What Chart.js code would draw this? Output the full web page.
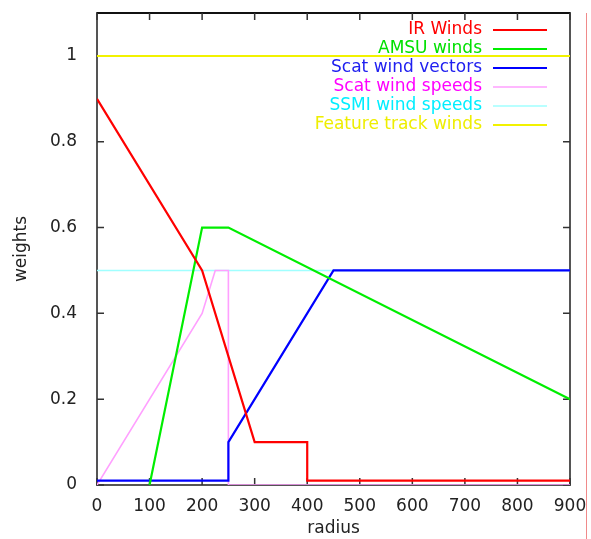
<!DOCTYPE html>
<html lang="en">
<head>
    <meta charset="UTF-8">
    <title>Observation weights by radius</title>
    <script src="https://cdn.jsdelivr.net/npm/chart.js"></script>
    <style>
        body {
            margin: 0;
            background: #ffffff;
        }
        .wrap {
            position: relative;
            width: 591px;
            height: 539px;
        }
        .edge {
            position: absolute;
            left: 586px;
            top: 13px;
            width: 1px;
            height: 526px;
            background: #f08a8a;
        }
    </style>
</head>
<body>
    <div class="wrap">
        <canvas id="weightChart"></canvas>
        <div class="edge"></div>
    </div>

    <script>
        // axis ticks
        const xTicks = [0, 100, 200, 300, 400, 500, 600, 700, 800, 900];
        const yTicks = [0, 0.2, 0.4, 0.6, 0.8, 1];

        // series (radius -> weight)
        const irX = [0, 200, 300, 400, 400, 900];
        const irY = [0.9, 0.5, 0.1, 0.1, 0.01, 0.01];
        const amsuX = [100, 200, 250, 900];
        const amsuY = [0, 0.6, 0.6, 0.2];
        const scatVecX = [0, 250, 250, 450, 900];
        const scatVecY = [0.01, 0.01, 0.1, 0.5, 0.5];
        const scatSpdX = [0, 200, 225, 250, 250, 900];
        const scatSpdY = [0, 0.4, 0.5, 0.5, 0, 0];
        const ssmiX = [0, 900];
        const ssmiY = [0.5, 0.5];
        const featX = [0, 900];
        const featY = [1, 1];

        const pts = (xs, ys) => xs.map((x, i) => ({ x: x, y: ys[i] }));

        // text colours for the legend (lines use the dataset colour)
        const legendText = ["#ff0000", "#00e000", "#2020f0", "#ff00ff", "#00eeff", "#eeee00"];

        const frameAndLegend = {
            id: "frameAndLegend",
            beforeDatasetsDraw(chart) {
                const ctx = chart.ctx;
                const a = chart.chartArea;
                const xs = chart.scales.x;
                const ys = chart.scales.y;
                ctx.save();
                // frame
                ctx.strokeStyle = "#555555";
                ctx.lineWidth = 2;
                ctx.strokeRect(a.left, a.top, a.right - a.left, a.bottom - a.top);
                ctx.strokeStyle = "#111111";
                ctx.beginPath();
                ctx.moveTo(a.left, a.top);
                ctx.lineTo(a.right, a.top);
                ctx.stroke();
                // inward ticks
                ctx.strokeStyle = "#333333";
                ctx.lineWidth = 1.5;
                ctx.beginPath();
                xTicks.forEach(v => {
                    const px = xs.getPixelForValue(v);
                    ctx.moveTo(px, a.bottom); ctx.lineTo(px, a.bottom - 7);
                    ctx.moveTo(px, a.top); ctx.lineTo(px, a.top + 7);
                });
                yTicks.forEach(v => {
                    const py = ys.getPixelForValue(v);
                    ctx.moveTo(a.left, py); ctx.lineTo(a.left + 7, py);
                    ctx.moveTo(a.right, py); ctx.lineTo(a.right - 7, py);
                });
                ctx.stroke();

                // legend, text right aligned with line sample to the right
                ctx.font = "17px 'DejaVu Sans'";
                ctx.textAlign = "right";
                ctx.textBaseline = "middle";
                chart.data.datasets.forEach((ds, i) => {
                    const y = 30 + i * 19;
                    ctx.fillStyle = legendText[i];
                    ctx.fillText(ds.label, 482, y);
                    ctx.strokeStyle = ds.borderColor;
                    ctx.lineWidth = ds.borderWidth;
                    ctx.beginPath();
                    ctx.moveTo(493, y);
                    ctx.lineTo(547, y);
                    ctx.stroke();
                });
                ctx.restore();
            }
        };

        const ctx = document.getElementById("weightChart").getContext("2d");

        new Chart(ctx, {
            type: "line",
            data: {
                datasets: [
                    { label: "IR Winds", data: pts(irX, irY), borderColor: "#ff0000", borderWidth: 2.2 },
                    { label: "AMSU winds", data: pts(amsuX, amsuY), borderColor: "#00ee00", borderWidth: 2.2 },
                    { label: "Scat wind vectors", data: pts(scatVecX, scatVecY), borderColor: "#0000ff", borderWidth: 2.2 },
                    { label: "Scat wind speeds", data: pts(scatSpdX, scatSpdY), borderColor: "#ffa0ff", borderWidth: 1.6 },
                    { label: "SSMI wind speeds", data: pts(ssmiX, ssmiY), borderColor: "#a0ffff", borderWidth: 1.6 },
                    { label: "Feature track winds", data: pts(featX, featY), borderColor: "#f2f200", borderWidth: 2 }
                ]
            },
            options: {
                responsive: true,
                maintainAspectRatio: false,
                animation: false,
                layout: { padding: { top: 13, right: 21, left: 0, bottom: 0 } },
                elements: {
                    point: { radius: 0 },
                    line: { tension: 0, fill: false }
                },
                plugins: {
                    legend: { display: false },
                    tooltip: { enabled: false }
                },
                scales: {
                    x: {
                        type: "linear",
                        min: 0,
                        max: 900,
                        afterBuildTicks: s => { s.ticks = xTicks.map(v => ({ value: v })); },
                        afterFit: s => { s.height = 54; s.paddingLeft = 0; s.paddingRight = 0; },
                        grid: { display: false },
                        border: { display: false },
                        ticks: { color: "#222", padding: 3, maxRotation: 0, font: { family: "DejaVu Sans", size: 17 } },
                        title: { display: true, text: "radius", color: "#222", padding: 0, font: { family: "DejaVu Sans", size: 17 } }
                    },
                    y: {
                        type: "linear",
                        min: 0,
                        max: 1.1,
                        afterBuildTicks: s => { s.ticks = yTicks.map(v => ({ value: v })); },
                        afterFit: s => { s.width = 97; s.paddingTop = 0; s.paddingBottom = 0; },
                        grid: { display: false },
                        border: { display: false },
                        ticks: {
                            color: "#222",
                            padding: 12,
                            font: { family: "DejaVu Sans", size: 17 },
                            callback: v => String(Math.round(v * 10) / 10)
                        },
                        title: { display: true, text: "weights", color: "#222", padding: { top: 11, bottom: 0 }, font: { family: "DejaVu Sans", size: 17 } }
                    }
                }
            },
            plugins: [frameAndLegend]
        });
    </script>
</body>
</html>
